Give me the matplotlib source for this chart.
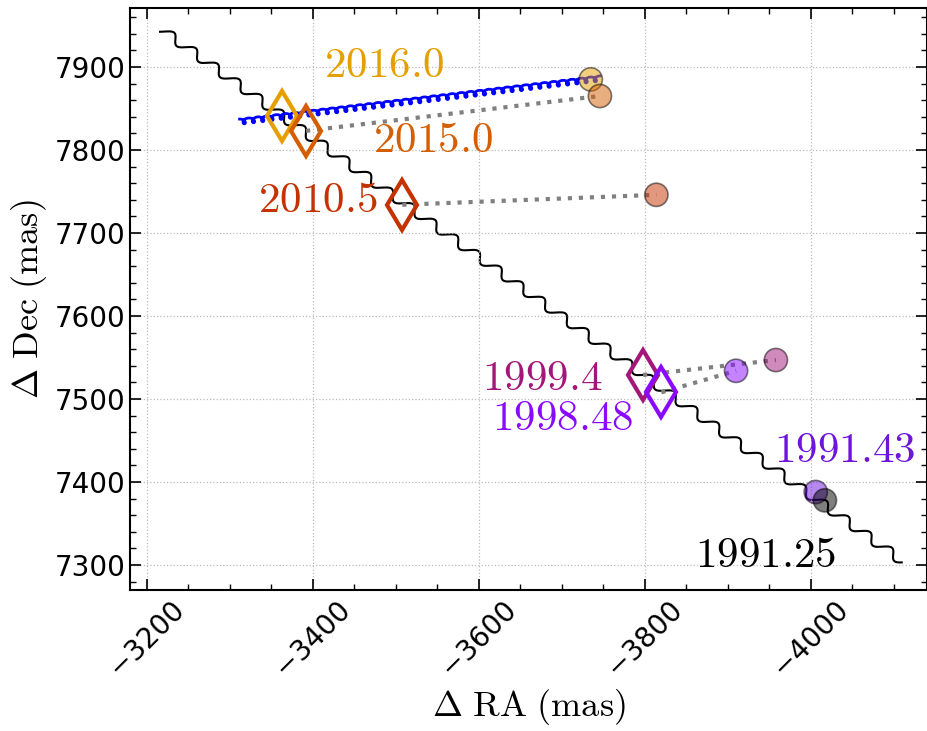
import numpy as np
import matplotlib
matplotlib.use('Agg')
import matplotlib.pyplot as plt
from matplotlib.ticker import MultipleLocator

plt.rcParams['mathtext.fontset'] = 'cm'
plt.rcParams['font.family'] = 'DejaVu Sans'

# epochs and colours
epochs = ['2016.0', '2015.0', '2010.5', '1999.4', '1998.48', '1991.43', '1991.25']
colors = ['#E69F00', '#D55E00', '#C43200', '#A3177A', '#8A0AFF', '#6E14DC', '#000000']

# measured companion positions (circles)
obs_ra = [-3735, -3746, -3814, -3958, -3910, -4006, -4017]
obs_dec = [7885, 7865, 7746, 7547, 7534, 7388, 7378]

# background-track positions at each epoch (diamonds)
bg_ra = [-3363, -3392, -3508, -3798, -3820]
bg_dec = [7841, 7823, 7734, 7529, 7508]

# label positions
lab_ra = [-3486, -3545, -3406, -3677, -3701, -4041, -3945]
lab_dec = [7902, 7812, 7740, 7525, 7477, 7439, 7312]

# background track: reference point, proper motion, parallax wiggle
t_ref = 1999.4
ra_ref, dec_ref = -3798.0, 7529.0
pm_ra, pm_dec = 26.2, 18.8
plx_ra, plx_dec = 4.8, 3.6
t_start, t_end = 1987.45, 2021.5

# blue track
blue_start = (-3312.0, 7834.0)
blue_end = (-3746.0, 7886.0)
blue_loops = 39
blue_amp = (3.8, 3.2)

fig = plt.figure(figsize=(9.28, 7.31), dpi=100)
ax = fig.add_axes([130/928, 141/731, 797/928, 582/731])

t = np.linspace(t_start, t_end, 6000)
ph = 2*np.pi*(t - t_ref)
ax.plot(ra_ref + pm_ra*(t - t_ref) + plx_ra*np.sin(ph),
        dec_ref + pm_dec*(t - t_ref) - plx_dec*np.sin(ph),
        color='k', lw=1.5, zorder=1)

s = np.linspace(0, blue_loops, 6000)
bx = blue_start[0] + (blue_end[0] - blue_start[0])*s/blue_loops - blue_amp[0]*np.sin(2*np.pi*s)
by = blue_start[1] + (blue_end[1] - blue_start[1])*s/blue_loops + blue_amp[1]*np.cos(2*np.pi*s)
ax.plot(bx, by, color='blue', lw=2, zorder=2)

# 2016.0 connector sits under the blue track, so skip it
for i in range(1, len(bg_ra)):
    ax.plot([bg_ra[i], obs_ra[i]], [bg_dec[i], obs_dec[i]], ls=':', color='gray', lw=3, zorder=3)

ax.scatter(obs_ra, obs_dec, s=280, c=colors, alpha=0.5, edgecolors='k', linewidths=1.2, zorder=4)

for i in range(len(bg_ra)):
    ax.plot(bg_ra[i], bg_dec[i], marker='d', ms=25, mfc='none', mec=colors[i], mew=3, zorder=5)

for i in range(len(epochs)):
    ax.text(lab_ra[i], lab_dec[i], '$' + epochs[i] + '$', color=colors[i], fontsize=31,
            ha='center', va='center', zorder=6)

ax.set_xlim(-3180, -4140)
ax.set_ylim(7270, 7971)
ax.xaxis.set_major_locator(MultipleLocator(200))
ax.xaxis.set_minor_locator(MultipleLocator(50))
ax.yaxis.set_major_locator(MultipleLocator(100))
ax.yaxis.set_minor_locator(MultipleLocator(20))
ax.tick_params(which='both', direction='in', top=True, right=True, labelsize=20)
ax.tick_params(which='major', length=8, width=1.2)
ax.tick_params(which='minor', length=4, width=1)
plt.setp(ax.get_xticklabels(), rotation=45)
for sp in ax.spines.values():
    sp.set_linewidth(1.5)
ax.grid(True, which='major', ls=':', color='#bbbbbb', lw=0.9)

ax.set_xlabel(r'$\Delta\ \mathrm{RA\ (mas)}$', fontsize=26)
ax.set_ylabel(r'$\Delta\ \mathrm{Dec\ (mas)}$', fontsize=26)

fig.savefig('out.png', dpi=100)
